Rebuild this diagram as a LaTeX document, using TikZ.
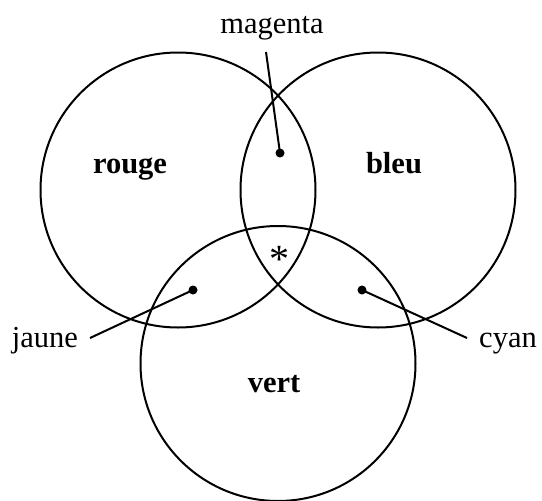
\documentclass[tikz,border=0pt]{standalone}
\usepackage{fontspec}
\setmainfont{Liberation Serif}
\begin{document}
\begin{tikzpicture}[x=1pt,y=-1pt,
  ring/.style={draw,line width=2pt},
  lbl/.style={font=\fontsize{30.5}{36}\selectfont,anchor=base,inner sep=0pt},
  blbl/.style={lbl,font=\fontsize{30.5}{36}\selectfont\bfseries},
  dot/.style={circle,fill,inner sep=0pt,minimum size=9pt},
  lead/.style={line width=2pt}]
\useasboundingbox (0,0) rectangle (542,501);
\draw[ring] (178,190) circle (137.5);
\draw[ring] (378,190) circle (137.5);
\draw[ring] (278,363.5) circle (137.5);
\node[blbl] (rouge) at (130,173) {rouge};
\node[blbl] (bleu) at (394,173) {bleu};
\node[blbl] (vert) at (274,392) {vert};
\node[lbl] (magenta) at (272,33) {magenta};
\node[lbl] (jaune) at (45,347) {jaune};
\node[lbl] (cyan) at (508,347) {cyan};
\node[font=\fontsize{40}{40}\selectfont,inner sep=0pt] (star) at (279,259) {*};
\node[dot] (dm) at (280,153) {};
\node[dot] (dj) at (193,290) {};
\node[dot] (dc) at (362,290) {};
\coordinate (em) at (266,52);
\coordinate (ej) at (90,338);
\coordinate (ec) at (467,338);
\draw[lead] (em) -- (dm.center);
\draw[lead] (ej) -- (dj.center);
\draw[lead] (ec) -- (dc.center);
\end{tikzpicture}
\end{document}
